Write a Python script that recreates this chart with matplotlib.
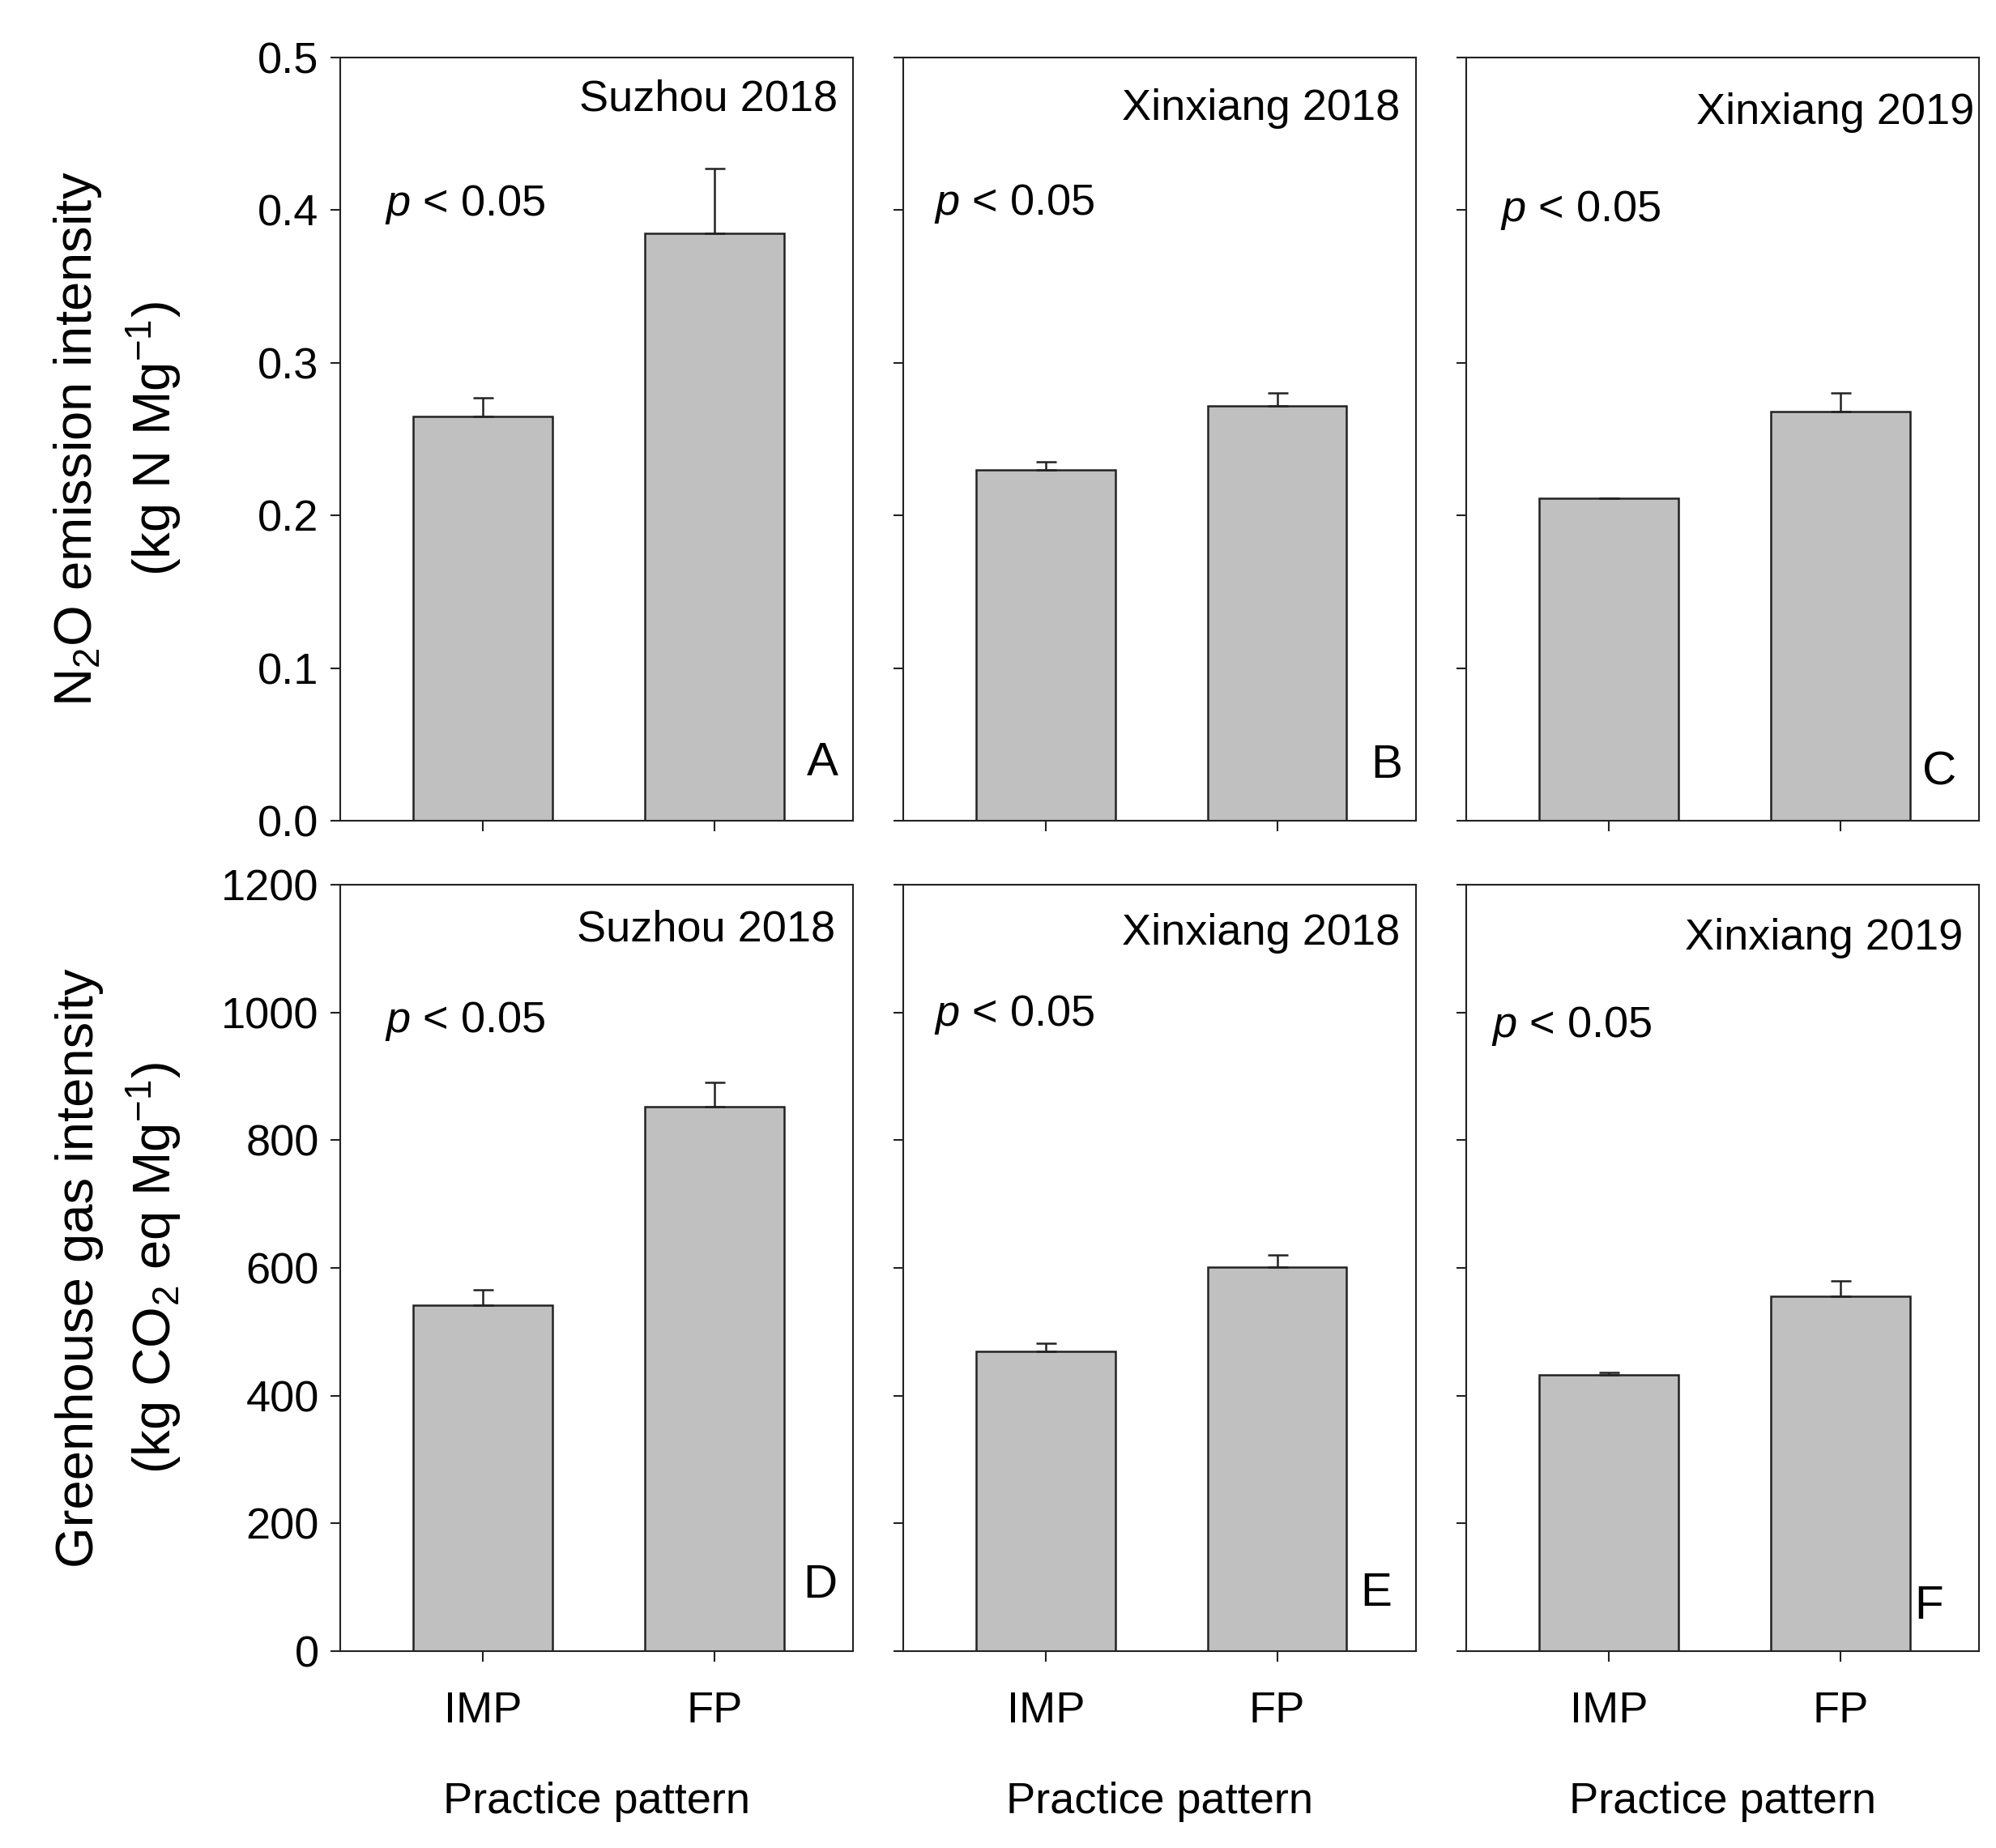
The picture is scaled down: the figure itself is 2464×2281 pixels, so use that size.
import matplotlib
matplotlib.use('Agg')
import matplotlib.pyplot as plt

plt.rcParams['font.family'] = ['Liberation Sans', 'DejaVu Sans']
plt.rcParams['mathtext.fontset'] = 'custom'
plt.rcParams['mathtext.rm'] = 'Liberation Sans'
plt.rcParams['mathtext.it'] = 'Liberation Sans:italic'
plt.rcParams['font.size'] = 39

sites = ['Suzhou 2018', 'Xinxiang 2018', 'Xinxiang 2019']
practices = ['IMP', 'FP']
n2o_mean = [[0.265, 0.385], [0.230, 0.272], [0.211, 0.268]]
n2o_err = [[0.012, 0.042], [0.005, 0.008], [0.0, 0.012]]
ghg_mean = [[542, 853], [470, 602], [433, 556]]
ghg_err = [[24, 38], [12, 18], [4, 24]]
n2o_ticks = [0.0, 0.1, 0.2, 0.3, 0.4, 0.5]
ghg_ticks = [0, 200, 400, 600, 800, 1000, 1200]
letters = [['A', 'B', 'C'], ['D', 'E', 'F']]

# text spots inside each panel (axes fractions), tuned to the original
site_pos = [[(0.97, 0.945), (0.968, 0.933), (0.99, 0.928)],
            [(0.965, 0.942), (0.968, 0.937), (0.968, 0.930)]]
p_pos = [[(0.087, 0.807), (0.06, 0.808), (0.066, 0.80)],
         [(0.087, 0.822), (0.06, 0.83), (0.049, 0.816)]]
letter_pos = [[(0.97, 0.075), (0.973, 0.072), (0.956, 0.063)],
              [(0.968, 0.086), (0.953, 0.075), (0.93, 0.058)]]

fig = plt.figure(figsize=(24.64, 22.81), dpi=100)
lefts = [0.1705, 0.4525, 0.7346]
bottoms = [0.5559, 0.1065]
heights = [0.413, 0.4147]
width = 0.257

rows = [(n2o_mean, n2o_err, n2o_ticks, 'N$_2$O emission intensity\n(kg N Mg$^{-1}$)', '%.1f'),
        (ghg_mean, ghg_err, ghg_ticks, 'Greenhouse gas intensity\n(kg CO$_2$ eq Mg$^{-1}$)', '%d')]

x = [0, 1]
for r, (means, errs, ticks, ylab, fmt) in enumerate(rows):
    for c in range(3):
        ax = fig.add_axes([lefts[c], bottoms[r], width, heights[r]])
        ax.bar(x, means[c], width=0.6, color='#c0c0c0', edgecolor='#222222', linewidth=1.8, zorder=2)
        ax.errorbar(x, means[c], yerr=[[0, 0], errs[c]], fmt='none', ecolor='#222222',
                    elinewidth=1.8, capsize=9, capthick=1.8, zorder=3)
        ax.set_xlim(-0.615, 1.6)
        ax.set_ylim(ticks[0], ticks[-1])
        ax.set_yticks(ticks)
        ax.set_xticks(x)
        for s in ax.spines.values():
            s.set_linewidth(1.5)
            s.set_color('#222222')
        ax.tick_params(direction='out', length=9, width=1.5, color='#222222')
        ax.tick_params(axis='y', pad=10)
        ax.tick_params(axis='x', pad=26)
        if c == 0:
            ax.set_yticklabels([fmt % t for t in ticks])
            ax.set_ylabel(ylab, fontsize=47, linespacing=1.45)
            ax.yaxis.set_label_coords(-0.305, 0.5)
        else:
            ax.set_yticklabels([])
        if r == 1:
            ax.set_xticklabels(practices)
            ax.set_xlabel('Practice pattern', labelpad=45)
        else:
            ax.set_xticklabels([])
        sx, sy = site_pos[r][c]
        ax.text(sx, sy, sites[c], transform=ax.transAxes, ha='right', va='center')
        px, py = p_pos[r][c]
        ax.text(px, py, '$p$ < 0.05', transform=ax.transAxes, ha='left', va='center')
        lx, ly = letter_pos[r][c]
        ax.text(lx, ly, letters[r][c], transform=ax.transAxes, ha='right', va='center', fontsize=42)

fig.savefig('out.png', dpi=100)
